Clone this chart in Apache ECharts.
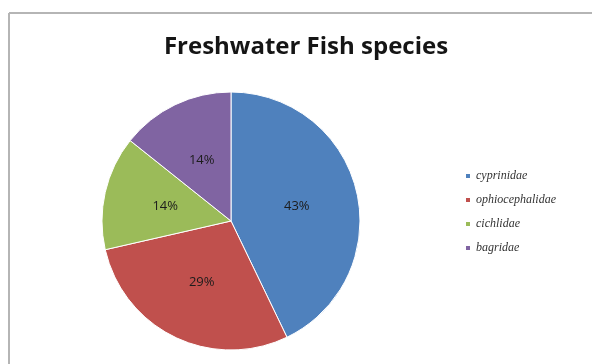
<!DOCTYPE html>
<html>
<head>
<meta charset="utf-8">
<script src="https://cdn.jsdelivr.net/npm/echarts@6/dist/echarts.min.js"></script>
<style>
  html, body { margin: 0; padding: 0; background: #fff; }
  #chart { width: 592px; height: 364px; }
</style>
</head>
<body>
<div id="chart"></div>
<script>
// families and their share (labels shown rounded to whole percent)
const families = ['cyprinidae', 'ophiocephalidae', 'cichlidae', 'bagridae']
const counts = [3, 2, 1, 1]
const colors = ['#4F81BD', '#C0504D', '#9BBB59', '#8064A2']

const chart = echarts.init(document.getElementById('chart'))

chart.setOption({
  animation: false,
  color: colors,
  title: {
    text: 'Freshwater Fish species',
    left: 301,
    top: 30,
    textAlign: 'center',
    textStyle: {
      fontFamily: 'Open Sans',
      fontWeight: 'bold',
      fontSize: 24,
      color: '#151515'
    }
  },
  legend: {
    orient: 'vertical',
    left: 459,
    top: 165,
    itemWidth: 6,
    itemHeight: 6,
    itemGap: 12,
    icon: 'rect',
    data: families,
    textStyle: {
      fontFamily: 'Liberation Serif',
      fontStyle: 'italic',
      fontSize: 12,
      color: '#333'
    }
  },
  // chart area frame (top and left edges visible)
  graphic: [
    { type: 'line', shape: { x1: 9, y1: 13, x2: 592, y2: 13 }, style: { stroke: '#b5b5b5', lineWidth: 2 } },
    { type: 'line', shape: { x1: 9, y1: 13, x2: 9, y2: 364 }, style: { stroke: '#b5b5b5', lineWidth: 2 } }
  ],
  series: [
    {
      type: 'pie',
      center: [231, 221],
      radius: [0, 129],
      startAngle: 90,
      clockwise: true,
      itemStyle: { borderColor: '#fff', borderWidth: 1 },
      label: {
        show: true,
        position: 'inside',
        formatter: (p) => Math.round(p.percent) + '%',
        fontFamily: 'Open Sans',
        fontSize: 13,
        color: '#1c1c1c'
      },
      labelLine: { show: false },
      emphasis: { disabled: true },
      data: families.map((name, i) => ({ name: name, value: counts[i] }))
    }
  ]
})
</script>
</body>
</html>
